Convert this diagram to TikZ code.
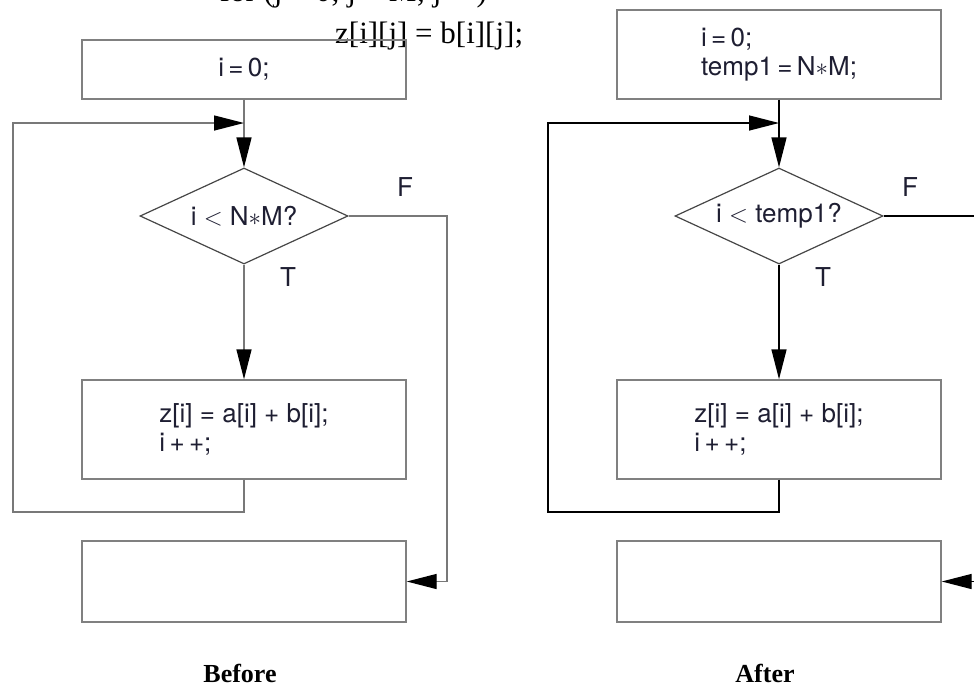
\documentclass[tikz,border=0pt]{standalone}
\usepackage{fontspec}
\setmainfont{Liberation Serif}
\setsansfont{TeX Gyre Heros}
\usetikzlibrary{shapes.geometric,arrows.meta}
\definecolor{boxgray}{RGB}{128,128,128}
\definecolor{diagray}{RGB}{70,70,70}
\definecolor{leftline}{RGB}{120,120,120}
\definecolor{txtdark}{RGB}{30,30,50}
\newcommand\flowfont{\sffamily\fontsize{26}{29}\selectfont\color{txtdark}}
\tikzset{
  box/.style={draw=boxgray, line width=1.4pt, minimum width=324pt, inner sep=0pt, font=\flowfont, align=left},
  dia/.style={diamond, shape aspect=2.17, draw=diagray, line width=1.2pt, minimum width=208pt, minimum height=96pt, inner sep=0pt, font=\flowfont},
  flowL/.style={draw=leftline, line width=1.4pt, -{Triangle[length=30pt,width=15pt,color=black]}},
  flowR/.style={draw=black, line width=1.4pt, -{Triangle[length=30pt,width=15pt,color=black]}},
  lbl/.style={font=\flowfont, inner sep=0pt},
  captionlbl/.style={font=\bfseries\fontsize{26}{30}\selectfont, inner sep=0pt},
  codetxt/.style={font=\fontsize{31}{31}\selectfont, inner sep=0pt}
}
\begin{document}
\begin{tikzpicture}[x=1pt,y=-1pt]
\useasboundingbox (0,0) rectangle (974,686);
% code fragment at the top
\node[codetxt, anchor=base east] (code1) at (487,1) {for (j = 0; j < M; j++)};
\node[codetxt, anchor=base west] (code2) at (335,43) {z[i][j] = b[i][j];};
% ---------- Before ----------
\node[box, minimum height=59pt] (b1) at (244,69.5) {i\,=\,0;};
\node[dia] (d1) at (244,216) {i $<$ N$\ast$M?};
\node[box, minimum height=99pt] (s1) at (244,429.5) {z[i] = a[i] + b[i];\\ i\,+\,+;};
\node[box, minimum height=81pt] (e1) at (244,581.5) {};
\node[lbl] (f1) at (405,187) {F};
\node[lbl] (t1) at (288,277) {T};
\coordinate (j1) at (244,123);
\coordinate (l1a) at (244,512);
\coordinate (l1b) at (13,512);
\coordinate (l1c) at (13,123);
\coordinate (r1a) at (447,216);
\draw[flowL] (b1.south) -- (d1.north);
\draw[flowL] (s1.south) -- (l1a) -- (l1b) -- (l1c) -- (j1);
\draw[flowL] (d1.east) -- (r1a) -- (r1a |- e1.east) -- (e1.east);
\draw[flowL] (d1.south) -- (s1.north);
\node[captionlbl, anchor=base] (before) at (240,682) {Before};
% ---------- After ----------
\node[box, minimum height=89pt] (b2) at (779,54.5) {i\,=\,0;\\ temp1\,=\,N$\ast$M;};
\node[dia] (d2) at (779,216) {i $<$ temp1?};
\node[box, minimum height=99pt] (s2) at (779,429.5) {z[i] = a[i] + b[i];\\ i\,+\,+;};
\node[box, minimum height=81pt] (e2) at (779,581.5) {};
\node[lbl] (f2) at (910,187) {F};
\node[lbl] (t2) at (823,277) {T};
\coordinate (j2) at (779,123);
\coordinate (l2a) at (779,512);
\coordinate (l2b) at (548,512);
\coordinate (l2c) at (548,123);
\coordinate (r2a) at (982,216);
\draw[flowR] (b2.south) -- (d2.north);
\draw[flowR] (s2.south) -- (l2a) -- (l2b) -- (l2c) -- (j2);
\draw[flowR] (d2.east) -- (r2a) -- (r2a |- e2.east) -- (e2.east);
\draw[flowR] (d2.south) -- (s2.north);
\node[captionlbl, anchor=base] (after) at (765,682) {After};
\end{tikzpicture}
\end{document}
